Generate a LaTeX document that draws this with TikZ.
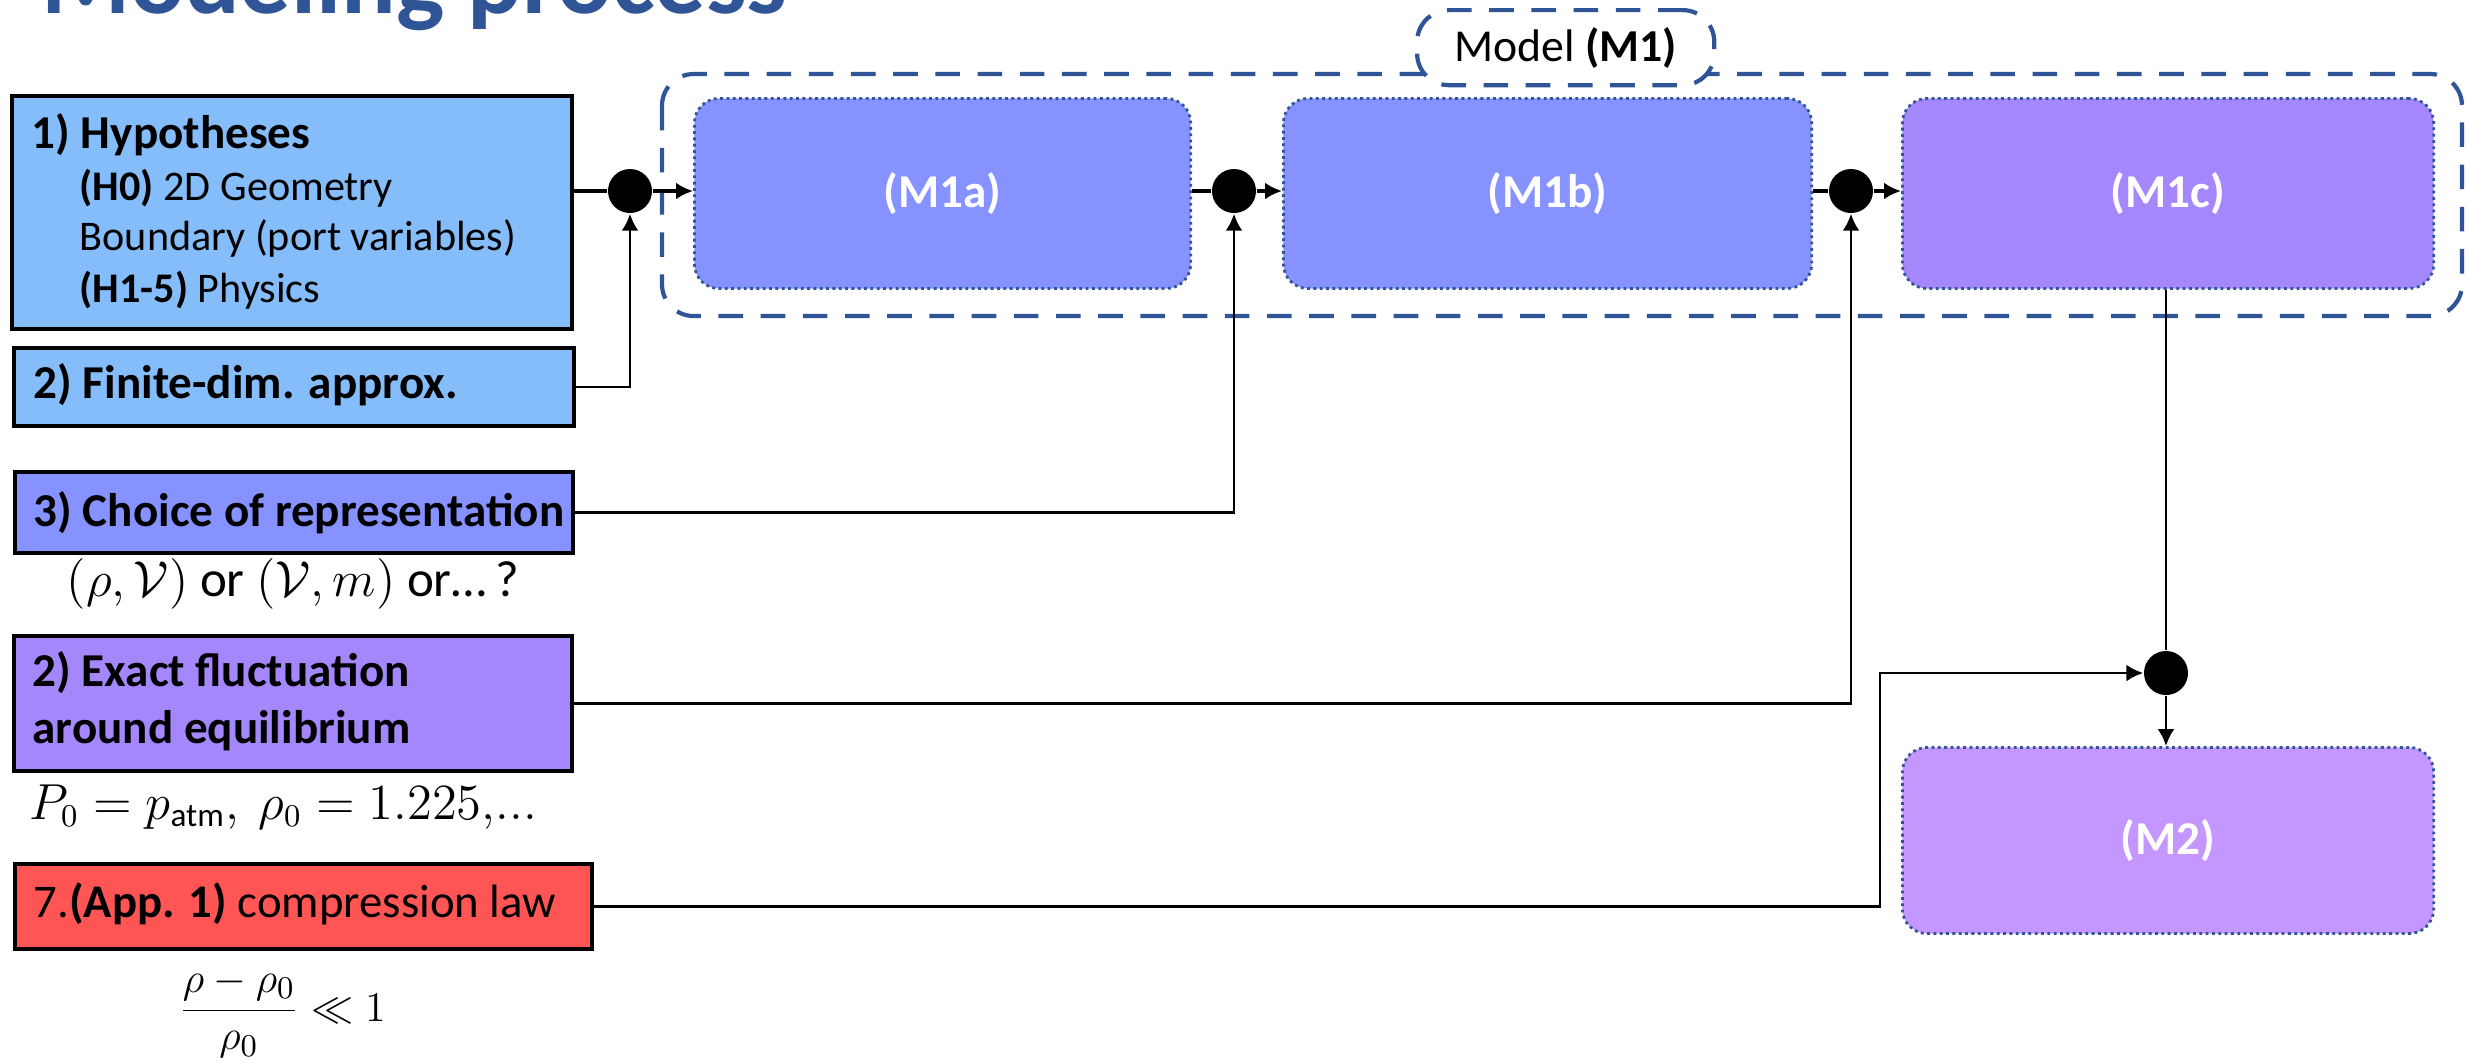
\documentclass[tikz,border=0pt]{standalone}
\usepackage[no-math]{fontspec}
\setmainfont{Carlito}
\usepackage{amsmath}
\usetikzlibrary{arrows.meta,calc}
\definecolor{hypblue}{RGB}{133,189,251}
\definecolor{repblue}{RGB}{134,146,255}
\definecolor{fluctpurple}{RGB}{165,135,252}
\definecolor{mtwo}{RGB}{195,151,255}
\definecolor{appred}{RGB}{255,85,85}
\definecolor{darkblue}{RGB}{47,85,151}
\tikzset{
  inbox/.style={draw=black, line width=1.1pt, inner sep=0pt, anchor=north west},
  mbox/.style={draw=darkblue, line width=0.8pt, dash pattern=on 0.8pt off 1pt,
     rounded corners=7pt, inner sep=0pt, anchor=north west, text=white,
     font=\fontsize{13.4}{16}\selectfont\bfseries},
  junction/.style={circle, fill=black, minimum size=0.44cm, inner sep=0pt},
  mainflow/.style={line width=1pt},
  feed/.style={line width=0.8pt},
  tip/.style={-{Latex[length=4.8pt,width=4.8pt]}},
  hd/.style={anchor=base west, inner sep=0pt, font=\fontsize{13.4}{16}\selectfont\bfseries},
  sub/.style={anchor=base west, inner sep=0pt, font=\fontsize{12}{14}\selectfont},
  mathlabel/.style={anchor=base, inner sep=0pt},
  container/.style={draw=darkblue, line width=1.2pt, dash pattern=on 7pt off 5pt, rounded corners=9pt}
}
\begin{document}
\begin{tikzpicture}[x=0.01cm,y=-0.01cm]
\useasboundingbox (0,0) rectangle (2468,1062);

% title (cut off at the top of the picture)
\node[anchor=base east, inner sep=0pt, text=darkblue, font=\fontsize{29}{34}\selectfont\bfseries] (title) at (788,13) {Modeling process};

% model container and tab
\draw[container] (662,74) rectangle (2462,316);
\node[container, fill=white, anchor=north west, minimum width=2.97cm, minimum height=0.75cm, inner sep=0pt,
      font=\fontsize{13}{16}\selectfont] (tab) at (1415,8) {Model \textbf{(M1)}};

% left boxes
\node[inbox, fill=hypblue, minimum width=5.6cm, minimum height=2.33cm] (hyp) at (10,94) {};
\node[hd] (hypT) at (31,148) {1) Hypotheses};
\node[sub] (hypA) at (79,200) {\textbf{(H0)} 2D Geometry};
\node[sub] (hypB) at (79,250) {Boundary (port variables)};
\node[sub] (hypC) at (79,302) {\textbf{(H1-5)} Physics};

\node[inbox, fill=hypblue, minimum width=5.6cm, minimum height=0.78cm] (fin) at (12,346) {};
\node[hd] (finT) at (33,398) {2) Finite-dim. approx.};

\node[inbox, fill=repblue, minimum width=5.58cm, minimum height=0.81cm] (rep) at (13,470) {};
\node[hd] (repT) at (33,526) {3) Choice of representation};
\node[mathlabel, font=\fontsize{14.5}{17}\selectfont] (repM) at (293,596) {$(\rho,\mathcal{V})$ or $(\mathcal{V},m)$ or\ldots\,?};

\node[inbox, fill=fluctpurple, minimum width=5.58cm, minimum height=1.35cm] (flu) at (12,634) {};
\node[hd] (fluT) at (32,686) {2) Exact fluctuation};
\node[hd] (fluU) at (32,743) {around equilibrium};
\node[mathlabel, font=\fontsize{13.5}{16}\selectfont] (fluM) at (283,819) {$P_0 = p_{\text{atm}},\ \rho_0 = 1.225{,}{.}{.}{.}$};

\node[inbox, fill=appred, minimum width=5.77cm, minimum height=0.85cm] (app) at (13,862) {};
\node[anchor=base west, inner sep=0pt, font=\fontsize{13.3}{16}\selectfont] (appT) at (33,917) {7.\textbf{(App. 1)} compression law};
\node[anchor=base west, inner sep=0pt, font=\fontsize{12.5}{15}\selectfont] (appM) at (178,1021) {$\displaystyle\frac{\rho-\rho_0}{\rho_0}\ll 1$};

% model boxes
\node[mbox, fill=repblue, minimum width=4.96cm, minimum height=1.9cm] (M1a) at (693,97) {(M1a)};
\node[mbox, fill=repblue, minimum width=5.28cm, minimum height=1.9cm] (M1b) at (1282,97) {(M1b)};
\node[mbox, fill=fluctpurple, minimum width=5.31cm, minimum height=1.9cm] (M1c) at (1901,97) {(M1c)};
\node[mbox, fill=mtwo, minimum width=5.31cm, minimum height=1.86cm] (M2) at (1901,746) {(M2)};

% junctions
\node[junction] (d1) at (630,191) {};
\node[junction] (d2) at (1234,191) {};
\node[junction] (d3) at (1851,191) {};
\node[junction] (d4) at (2166,673) {};
\coordinate (bend) at (1880,673);

% connectors
\draw[mainflow] (d1 -| hyp.east) -- (d1);
\draw[mainflow,tip] (d1) -- (d1 -| M1a.west);
\draw[feed,tip] (fin.east) -| (d1.south);

\draw[mainflow] (d2 -| M1a.east) -- (d2);
\draw[mainflow,tip] (d2) -- (d2 -| M1b.west);
\draw[feed,tip] (rep.east) -| (d2.south);

\draw[mainflow] (d3 -| M1b.east) -- (d3);
\draw[mainflow,tip] (d3) -- (d3 -| M1c.west);
\draw[feed,tip] (flu.east) -| (d3.south);

\draw[feed] (M1c.south -| d4) -- (d4);
\draw[feed,tip] (d4) -- (d4 |- M2.north);
\draw[feed,tip] (app.east) -| (bend) -- (d4.west);
\end{tikzpicture}
\end{document}
